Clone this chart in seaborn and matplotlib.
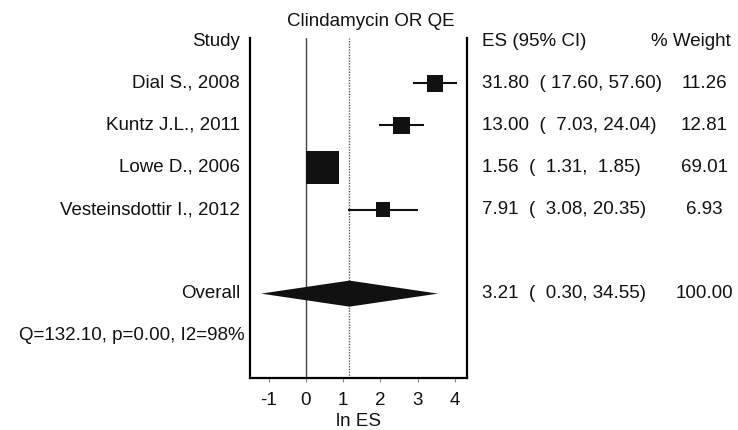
import numpy as np
import pandas as pd
import matplotlib
matplotlib.use("Agg")
import matplotlib.pyplot as plt
import matplotlib.transforms as mtransforms
import seaborn as sns

# ---- data ----
title = "Clindamycin OR QE"
studies = ["Dial S., 2008", "Kuntz J.L., 2011", "Lowe D., 2006", "Vesteinsdottir I., 2012"]
es = [31.80, 13.00, 1.56, 7.91]
ci_low = [17.60, 7.03, 1.31, 3.08]
ci_high = [57.60, 24.04, 1.85, 20.35]
weights = [11.26, 12.81, 69.01, 6.93]
overall_label = "Overall"
overall_es = 3.21
overall_low = 0.30
overall_high = 34.55
overall_weight = 100.00
het_label = "Q=132.10, p=0.00, I2=98%"
xticks = [-1, 0, 1, 2, 3, 4]
xlabel = "ln ES"

sns.set_theme(style="white")
plt.rcParams["font.family"] = ["Liberation Sans", "DejaVu Sans"]
FS = 13.5
TXT = "#111111"

df = pd.DataFrame({
    "study": studies,
    "row": np.arange(1, len(studies) + 1),
    "ln_es": np.log(es),
    "ln_lo": np.log(ci_low),
    "ln_hi": np.log(ci_high),
    "weight": weights,
})

fig = plt.figure(figsize=(7.38, 4.30), dpi=100)
ax = fig.add_axes([250 / 738, (430 - 377.7) / 430, 217 / 738, (377.7 - 38) / 430])

ax.set_xlim(-1.5, 4.32)
ax.set_ylim(8.0, -0.08)

# reference lines
ax.axvline(0, color="#444444", lw=1.0, zorder=1)
ax.axvline(np.log(overall_es), color="#555555", lw=1.0, ls=(0, (1, 1)), zorder=1)

# CI lines
ax.hlines(df["row"], df["ln_lo"], df["ln_hi"], color="#111111", lw=1.5, zorder=2)

# squares
sns.scatterplot(data=df, x="ln_es", y="row", size="weight", sizes=(112, 564),
                marker="s", color="#111111", linewidth=0, legend=False, ax=ax, zorder=3)

# overall diamond
orow = 6
lo, mid, hi = np.log(overall_low), np.log(overall_es), np.log(overall_high)
h = 0.31
ax.fill([lo, mid, hi, mid], [orow, orow - h, orow, orow + h], color="#111111", lw=0, zorder=3)

# axes styling
for side in ["left", "right", "bottom"]:
    ax.spines[side].set_visible(True)
    ax.spines[side].set_color("black")
    ax.spines[side].set_linewidth(1.6)
ax.spines["top"].set_visible(False)
ax.set_yticks([])
ax.set_xticks(xticks)
ax.set_xticklabels([str(t) for t in xticks])
ax.tick_params(axis="x", bottom=True, length=3, width=0.8, color="#888888",
               pad=7, labelsize=FS, labelcolor=TXT)
ax.set_xlabel(xlabel, fontsize=FS, color=TXT, labelpad=3)
ax.set_ylabel("")
ax.grid(False)

# text columns
tr = mtransforms.blended_transform_factory(fig.transFigure, ax.transData)
fx = lambda px: px / 738

ax.text(fx(240), 0, "Study", transform=tr, ha="right", va="center", fontsize=FS, color=TXT, clip_on=False)
ax.text(fx(482), 0, "ES (95% CI)", transform=tr, ha="left", va="center", fontsize=FS, color=TXT, clip_on=False)
ax.text(fx(691), 0, "% Weight", transform=tr, ha="center", va="center", fontsize=FS, color=TXT, clip_on=False)

def ci_str(e, l, u):
    return f"{e:.2f}  ( {l:5.2f}, {u:5.2f})"

for r, s, e, l, u, w in zip(df["row"], studies, es, ci_low, ci_high, weights):
    ax.text(fx(240), r, s, transform=tr, ha="right", va="center", fontsize=FS, color=TXT, clip_on=False)
    ax.text(fx(482), r, ci_str(e, l, u), transform=tr, ha="left", va="center", fontsize=FS, color=TXT, clip_on=False)
    ax.text(fx(704), r, f"{w:.2f}", transform=tr, ha="center", va="center", fontsize=FS, color=TXT, clip_on=False)

ax.text(fx(240), orow, overall_label, transform=tr, ha="right", va="center", fontsize=FS, color=TXT, clip_on=False)
ax.text(fx(482), orow, ci_str(overall_es, overall_low, overall_high), transform=tr, ha="left", va="center",
        fontsize=FS, color=TXT, clip_on=False)
ax.text(fx(704), orow, f"{overall_weight:.2f}", transform=tr, ha="center", va="center", fontsize=FS, color=TXT, clip_on=False)
ax.text(fx(245), 7, het_label, transform=tr, ha="right", va="center", fontsize=FS, color=TXT, clip_on=False)

fig.text(371 / 738, 1 - 21 / 430, title, ha="center", va="center", fontsize=FS, color=TXT)

fig.savefig("out.png", dpi=100, facecolor="white")
